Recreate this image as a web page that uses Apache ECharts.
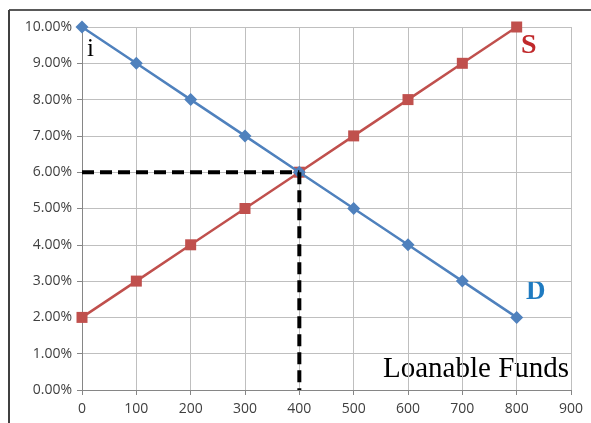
<!DOCTYPE html>
<html><head><meta charset="utf-8">
<script src="https://cdn.jsdelivr.net/npm/echarts@6/dist/echarts.min.js"></script>
<style>html,body{margin:0;padding:0;background:#fff}#c{width:591px;height:423px}</style>
</head><body><div id="c"></div>
<script>
const quantities = [0, 100, 200, 300, 400, 500, 600, 700, 800];
const demandRates = [10, 9, 8, 7, 6, 5, 4, 3, 2];
const supplyRates = [2, 3, 4, 5, 6, 7, 8, 9, 10];
const eqQuantity = 400;
const eqRate = 6;

const chart = echarts.init(document.getElementById('c'));
const axisFont = {fontFamily: '"Open Sans", sans-serif', fontSize: 14, color: '#404040'};
chart.setOption({
  animation: false,
  grid: {left: 82, right: 20, top: 27, bottom: 33},
  xAxis: {
    type: 'value', min: 0, max: 900, interval: 100,
    axisLine: {show: true, onZero: false, lineStyle: {color: '#868686', width: 1}},
    axisTick: {show: true, length: 5, lineStyle: {color: '#868686'}},
    axisLabel: Object.assign({margin: 12}, axisFont),
    splitLine: {show: true, lineStyle: {color: '#BFBFBF', width: 1}}
  },
  yAxis: {
    type: 'value', min: 0, max: 10, interval: 1,
    axisLine: {show: true, lineStyle: {color: '#868686', width: 1}},
    axisTick: {show: true, length: 5, lineStyle: {color: '#868686'}},
    axisLabel: Object.assign({margin: 10, formatter: v => v.toFixed(2) + '%'}, axisFont),
    splitLine: {show: true, lineStyle: {color: '#BFBFBF', width: 1}}
  },
  series: [
    {
      type: 'line', name: 'eqH', silent: true, symbol: 'none',
      data: [[0, eqRate], [eqQuantity, eqRate]],
      lineStyle: {color: '#000', width: 4, type: [12, 6]}, z: 5
    },
    {
      type: 'line', name: 'eqV', silent: true, symbol: 'none',
      data: [[eqQuantity, eqRate], [eqQuantity, 0]],
      lineStyle: {color: '#000', width: 4, type: [12, 6]}, z: 5
    },
    {
      type: 'line', name: 'S',
      data: quantities.map((q, i) => [q, supplyRates[i]]),
      symbol: 'rect', symbolSize: 11,
      itemStyle: {color: '#C0504D'},
      lineStyle: {color: '#C0504D', width: 2.5}, z: 3
    },
    {
      type: 'line', name: 'D',
      data: quantities.map((q, i) => [q, demandRates[i]]),
      symbol: 'diamond', symbolSize: 13,
      itemStyle: {color: '#4F81BD'},
      lineStyle: {color: '#4F81BD', width: 2.5}, z: 4
    }
  ],
  graphic: [
    {type: 'line', shape: {x1: 9, y1: 10, x2: 591, y2: 10}, style: {stroke: '#595959', lineWidth: 2}},
    {type: 'line', shape: {x1: 9, y1: 10, x2: 9, y2: 423}, style: {stroke: '#404040', lineWidth: 2}},
    {type: 'text', left: 87, top: 37, style: {text: 'i', font: '25px "Liberation Serif", serif', fill: '#000'}},
    {type: 'text', left: 521, top: 32, style: {text: 'S', font: 'bold 28px "Liberation Serif", serif', fill: '#C0292B'}},
    {type: 'text', left: 526, top: 279, style: {text: 'D', font: 'bold 27px "Liberation Serif", serif', fill: '#1F7BC1'}},
    {type: 'text', left: 383, top: 355, style: {text: 'Loanable Funds', font: '29px "Liberation Serif", serif', fill: '#000'}}
  ]
});
</script></body></html>
